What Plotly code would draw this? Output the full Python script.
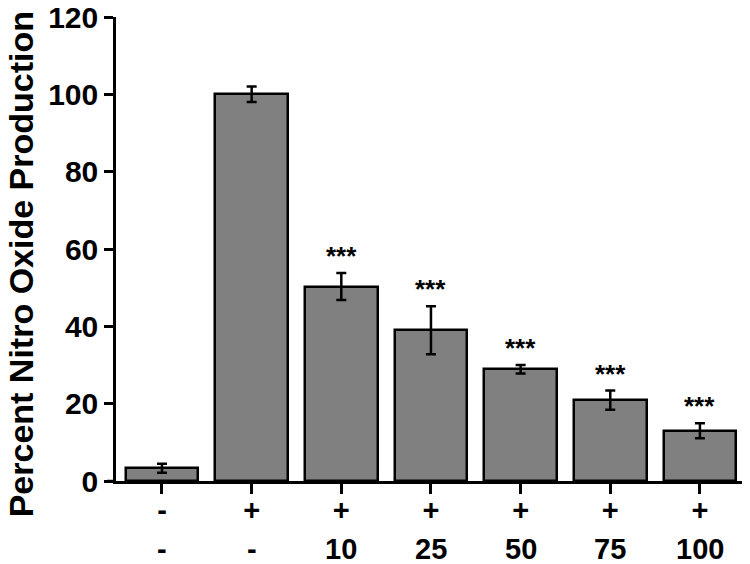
import plotly.graph_objects as go

# Data
row1_labels = ["-", "+", "+", "+", "+", "+", "+"]
row2_labels = ["-", "-", "10", "25", "50", "75", "100"]
values = [3.3, 100.0, 50.3, 39.0, 28.9, 20.9, 13.0]
errors = [1.15, 2.0, 3.5, 6.2, 1.1, 2.5, 1.95]
significance = ["", "", "***", "***", "***", "***", "***"]

FONT = "Liberation Sans, Arial, sans-serif"
positions = list(range(len(values)))

fig = go.Figure()
fig.add_trace(go.Bar(
    x=positions,
    y=values,
    width=0.81,
    marker=dict(color="#808080", line=dict(color="black", width=2.5)),
    error_y=dict(type="data", array=errors, visible=True,
                 color="black", thickness=2.5, width=5),
    showlegend=False,
))

for xi, v, e, s in zip(positions, values, errors, significance):
    if s:
        fig.add_annotation(
            x=xi, y=v + e, xref="x", yref="y", text=s, showarrow=False,
            yanchor="bottom", yshift=0,
            font=dict(family=FONT, size=26, color="black", weight="bold"),
        )

# second row of x labels
for xi, lab in zip(positions, row2_labels):
    fig.add_annotation(
        x=xi, y=0, xref="x", yref="paper", text=lab, showarrow=False,
        yanchor="middle", yshift=-68,
        font=dict(family=FONT, size=29, color="black", weight="bold"),
    )

# Y-axis title
fig.add_annotation(
    xref="paper", yref="paper", x=-95 / 631, y=0.467,
    text="Percent Nitro Oxide Production", textangle=-90, showarrow=False,
    xanchor="center", yanchor="middle",
    font=dict(family=FONT, size=34, color="black", weight="bold"),
)

# small extension of x-axis line to the left of the y-axis
fig.add_shape(type="line", xref="paper", yref="y", x0=-9 / 631, x1=0, y0=0, y1=0,
              line=dict(color="black", width=2.5))

fig.update_layout(
    width=742, height=556,
    margin=dict(l=108, r=3, t=8.5, b=83, autoexpand=False),
    paper_bgcolor="white", plot_bgcolor="white",
    font=dict(family=FONT, color="black"),
    bargap=0,
)
fig.update_xaxes(
    range=[-0.513, 6.525], automargin=False,
    tickmode="array", tickvals=positions, ticktext=row1_labels,
    ticklabelstandoff=-9,
    showline=True, linecolor="black", linewidth=2.5,
    ticks="outside", ticklen=10, tickwidth=2.5, tickcolor="black",
    showgrid=False, zeroline=False,
    tickfont=dict(family=FONT, size=29, color="black", weight="bold"),
)
fig.update_yaxes(
    range=[0, 120], tickvals=[0, 20, 40, 60, 80, 100, 120], automargin=False,
    ticklabeloverflow="allow",
    showline=True, linecolor="black", linewidth=2.5,
    ticks="outside", ticklen=9, tickwidth=2.5, tickcolor="black",
    showgrid=False, zeroline=False,
    tickfont=dict(family=FONT, size=30, color="black", weight="bold"),
)

fig.write_html("out.html")
